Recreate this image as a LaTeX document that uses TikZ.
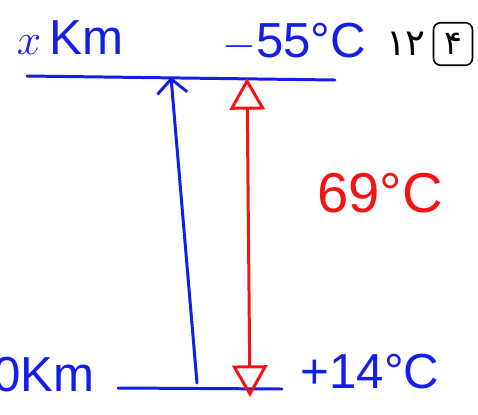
\documentclass[tikz,border=0pt]{standalone}
\usepackage{fontspec}
\setmainfont{Liberation Sans}
\newfontfamily\digitfont{DejaVu Sans}
\usetikzlibrary{arrows.meta, positioning}
\definecolor{PenBlue}{RGB}{20, 30, 235}
\definecolor{PenRed}{RGB}{245, 20, 20}

\begin{document}
\begin{tikzpicture}[
    x=0.02cm, y=-0.02cm,
    pen/.style={line width=1.7pt, line cap=round, line join=round},
    level_line/.style={pen, draw=PenBlue},
    height_arrow/.style={pen, draw=PenBlue, -{Straight Barb[length=8pt, width=17pt]}},
    temp_arrow/.style={pen, draw=PenRed, {Triangle[open, length=18pt, width=20pt, line width=1.7pt]}-{Triangle[open, length=18pt, width=20pt, line width=1.7pt]}},
    hand_label/.style={inner sep=0pt, font=\fontsize{28}{32}\selectfont},
    blue_label/.style={hand_label, text=PenBlue},
    red_label/.style={hand_label, text=PenRed, font=\fontsize{32}{36}\selectfont}
]
\useasboundingbox (0,0) rectangle (478,414);
\clip (0,0) rectangle (478,414);
\fill[white] (0,0) rectangle (478,414);

\coordinate (top_l) at (27,76);
\coordinate (top_r) at (335,80);
\coordinate (bot_l) at (118,388);
\coordinate (bot_r) at (282,389);
\coordinate (h_low) at (197,383);
\coordinate (h_high) at (171,77);
\coordinate (t_low) at (250,397);
\coordinate (t_high) at (247,78);

\draw[level_line] (top_l) -- (top_r);
\draw[level_line] (bot_l) -- (bot_r);
\draw[height_arrow] (h_low) -- (h_high);
\draw[temp_arrow] (t_low) -- (t_high);

\node[blue_label] (alt_top) at (70,38) {$x$\,Km};
\node[blue_label] (temp_top) at (294,42) {$-$55°C};
\node[blue_label] (alt_bot) at (44,375) {0Km};
\node[blue_label] (temp_bot) at (370,372) {+14°C};
\node[red_label] (diff) at (380,193) {69°C};

\node[inner sep=0pt, font=\digitfont\fontsize{21}{24}\selectfont] (page_no) at (406,44) {۱۲};
\node[draw, rounded corners=4pt, line width=0.9pt, inner sep=6pt,
      font=\digitfont\fontsize{19}{22}\selectfont] (item_no) at (453,44) {۴};
\end{tikzpicture}
\end{document}
